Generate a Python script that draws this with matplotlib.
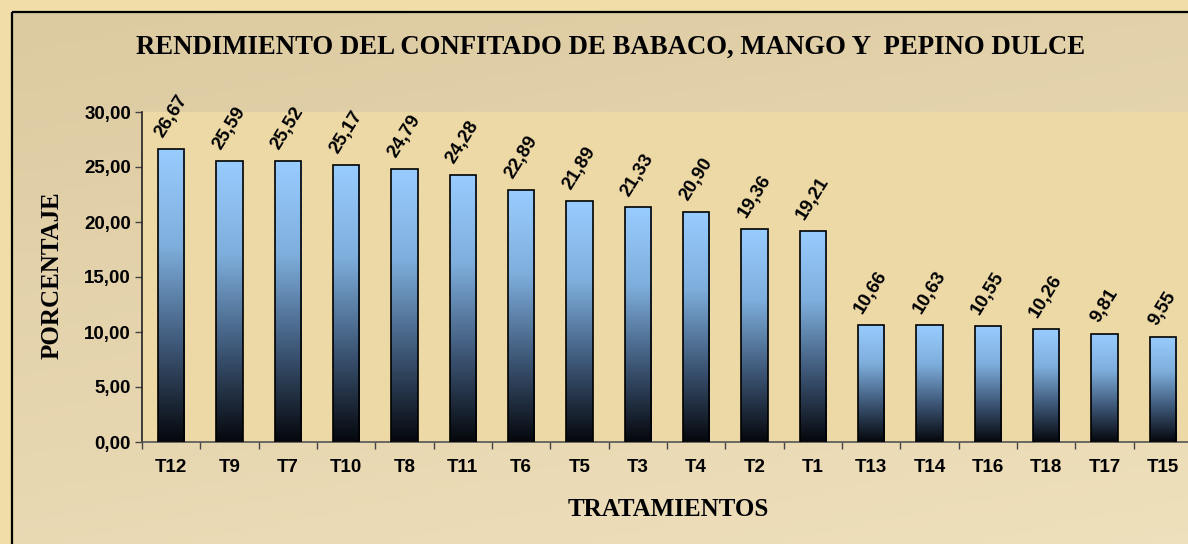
import numpy as np
import matplotlib
matplotlib.use("Agg")
import matplotlib.pyplot as plt
from matplotlib.patches import Rectangle
from matplotlib.colors import LinearSegmentedColormap

categories = ["T12", "T9", "T7", "T10", "T8", "T11", "T6", "T5", "T3", "T4",
              "T2", "T1", "T13", "T14", "T16", "T18", "T17", "T15"]
values = [26.67, 25.59, 25.52, 25.17, 24.79, 24.28, 22.89, 21.89, 21.33, 20.90,
          19.36, 19.21, 10.66, 10.63, 10.55, 10.26, 9.81, 9.55]
yticks = [0, 5, 10, 15, 20, 25, 30]

title = "RENDIMIENTO DEL CONFITADO DE BABACO, MANGO Y  PEPINO DULCE"
xlabel = "TRATAMIENTOS"
ylabel = "PORCENTAJE"

W, H = 1188, 544
fig = plt.figure(figsize=(W / 100, H / 100), dpi=100)
fig.patch.set_facecolor("#F1DDA8")

# background of chart area (inside frame) - smooth tan gradient
bg = fig.add_axes([0, 0, 1, 1])
bg.set_axis_off()
bg.set_xlim(0, W)
bg.set_ylim(H, 0)
gx = np.linspace(0, 1, 200)
gy = np.linspace(0, 1, 100)
GX, GY = np.meshgrid(gx, gy)
t = np.clip(0.55 * GY + 0.25 * GX, 0, 1)
c0 = np.array([220, 202, 160]) / 255
c1 = np.array([244, 230, 196]) / 255
img = c0[None, None, :] * (1 - t[..., None]) + c1[None, None, :] * t[..., None]
bg.imshow(img, extent=[11, W + 5, H + 5, 11], aspect="auto", zorder=0)
bg.add_patch(Rectangle((11.5, 11.5), W + 10, H + 10, fill=False,
                       edgecolor="black", linewidth=1.6, zorder=2))

# title and labels
fig.text(611 / W, 1 - 47 / H, title, ha="center", va="center",
         family="Liberation Serif", weight="bold", fontsize=19.3)
fig.text(668 / W, 1 - 509 / H, xlabel, ha="center", va="center",
         family="Liberation Serif", weight="bold", fontsize=18)
fig.text(52 / W, 1 - 275 / H, ylabel, ha="center", va="center", rotation=90,
         family="Liberation Serif", weight="bold", fontsize=18)

# plot area
left, right, top, bottom = 142, 1192, 112, 442
ax = fig.add_axes([left / W, 1 - bottom / H, (right - left) / W, (bottom - top) / H])
ax.set_facecolor("#EDD9A5")
n = len(categories)
x = np.arange(n)

cmap = LinearSegmentedColormap.from_list("bar", ["#05070c", "#3e5878", "#7eaedc", "#99CCFF"])
grad = np.linspace(0, 1, 256).reshape(-1, 1)
bw = 0.45
bars = ax.bar(x, values, width=bw, color="none", edgecolor="black", linewidth=1.2, zorder=3)
for b in bars:
    bx, by = b.get_x(), b.get_y()
    bwid, bh = b.get_width(), b.get_height()
    im = ax.imshow(grad, cmap=cmap, origin="lower", aspect="auto",
                   extent=[bx, bx + bwid, by, by + bh], zorder=2)
    im.set_clip_path(Rectangle((bx, by), bwid, bh, transform=ax.transData))
ax.set_xlim(-0.5, n - 0.5)
ax.set_ylim(0, 30)

for xi, v in zip(x, values):
    ax.annotate(f"{v:.2f}".replace(".", ","), (xi, v), xytext=(0, 6),
                textcoords="offset points", ha="center", va="bottom", rotation=58,
                family="Liberation Sans", weight="bold", fontsize=13.5,
                annotation_clip=False, zorder=4)

ax.set_yticks(yticks)
ax.set_yticklabels([f"{t:.2f}".replace(".", ",") for t in yticks],
                   family="Liberation Sans", weight="bold", fontsize=13.5)
ax.set_xticks(x)
ax.set_xticklabels(categories, family="Liberation Sans", weight="bold", fontsize=13.5)
ax.set_xticks(np.arange(n + 1) - 0.5, minor=True)
ax.tick_params(axis="x", which="major", length=0, pad=12)
ax.tick_params(axis="x", which="minor", length=5, width=1, color="#444444", direction="out")
ax.tick_params(axis="y", length=5, width=1, color="#444444", direction="out", pad=3)

for s in ["top", "right"]:
    ax.spines[s].set_visible(False)
ax.spines["left"].set_color("#222222")
ax.spines["bottom"].set_color("#555555")
ax.spines["left"].set_linewidth(1.2)
ax.spines["bottom"].set_linewidth(1.2)

fig.savefig("out.png", dpi=100)
